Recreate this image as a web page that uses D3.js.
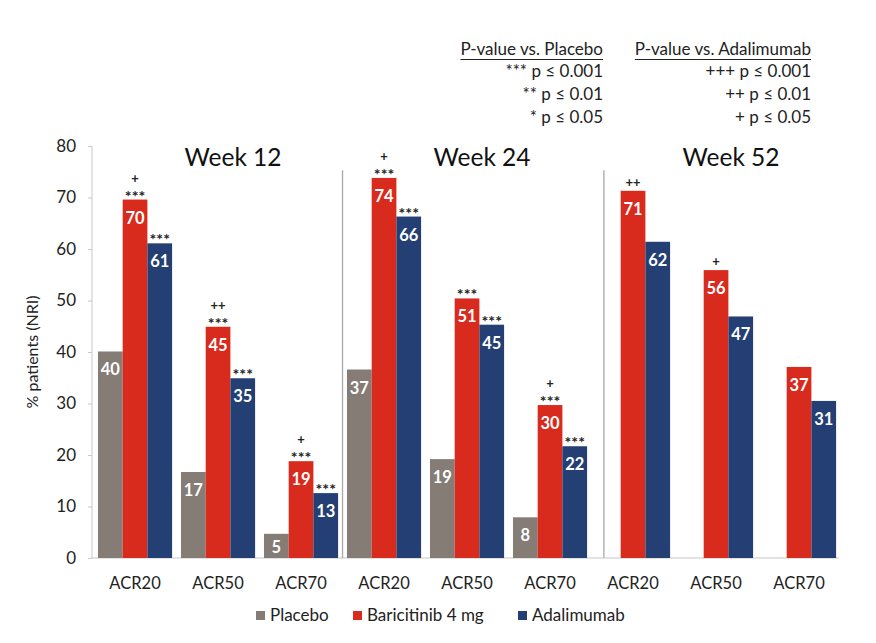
<!DOCTYPE html>
<html><head><meta charset="utf-8">
<script src="https://cdn.jsdelivr.net/npm/d3@7"></script>
<style>body{margin:0;background:#fff;} svg{display:block;} text{font-family:Lato,"Open Sans",sans-serif;}</style>
</head><body>
<svg id="chart" width="876" height="643"></svg>
<script>
const weeks = ["Week 12", "Week 24", "Week 52"];
const measures = ["ACR20", "ACR50", "ACR70"];
const seriesNames = ["Placebo", "Baricitinib 4 mg", "Adalimumab"];
const seriesColors = ["#847c75", "#d92a1e", "#233f74"];
// values per category (week × measure order)
const placebo = [40.1, 16.7, 4.7, 36.6, 19.2, 7.9, null, null, null];
const baricitinib = [69.6, 44.9, 18.8, 73.8, 50.4, 29.7, 71.3, 55.9, 37.1];
const adalimumab = [61.1, 34.9, 12.6, 66.3, 45.3, 21.7, 61.4, 46.9, 30.5];
const placeboLabels = ["40", "17", "5", "37", "19", "8", "", "", ""];
const baricitinibLabels = ["70", "45", "19", "74", "51", "30", "71", "56", "37"];
const adalimumabLabels = ["61", "35", "13", "66", "45", "22", "62", "47", "31"];
// significance marks: vs placebo (stars), vs adalimumab (plus)
const bariStars = ["***", "***", "***", "***", "***", "***", "", "", ""];
const bariPlus = ["+", "++", "+", "+", "", "+", "++", "+", ""];
const adaStars = ["***", "***", "***", "***", "***", "***", "", "", ""];
const yTicks = [0, 10, 20, 30, 40, 50, 60, 70, 80];
const legendPlacebo = ["P-value vs. Placebo", "*** p ≤ 0.001", "** p ≤ 0.01", "* p ≤ 0.05"];
const legendAda = ["P-value vs. Adalimumab", "+++ p ≤ 0.001", "++ p ≤ 0.01", "+ p ≤ 0.05"];

const svg = d3.select("#chart");
const cats = d3.range(9);
const x = d3.scaleBand().domain(cats).range([92, 839]);
const bw = x.bandwidth();
const xi = d3.scaleBand().domain(d3.range(3)).range([bw * 0.072, bw * 0.965]);
const y = d3.scaleLinear().domain([0, 80]).range([558, 146]);

const series = [
  {vals: placebo, labels: placeboLabels},
  {vals: baricitinib, labels: baricitinibLabels},
  {vals: adalimumab, labels: adalimumabLabels}
];

// y axis
const yAxis = d3.axisLeft(y).tickValues(yTicks).tickSize(4).tickPadding(12);
const ga = svg.append("g").attr("transform", "translate(92,0)").call(yAxis);
ga.select(".domain").attr("stroke", "#c8c8c8").attr("d", `M0,${y(80)}V${y(0)}`);
ga.selectAll(".tick line").attr("stroke", "#c8c8c8");
ga.selectAll(".tick text").attr("font-size", 17).attr("fill", "#222").style("font-family", "Lato, sans-serif");

// baseline
svg.append("line").attr("x1", 92).attr("x2", 839).attr("y1", y(0)).attr("y2", y(0))
  .attr("stroke", "#c8c8c8").attr("stroke-width", 1.2);

// axis title
svg.append("text").attr("transform", `translate(38,${(y(0) + y(80)) / 2}) rotate(-90)`)
  .attr("text-anchor", "middle").attr("font-size", 16).attr("fill", "#222").text("% patients (NRI)");

// bars
series.forEach((s, si) => {
  const g = svg.append("g");
  cats.forEach(c => {
    const v = s.vals[c];
    if (v == null) return;
    const bx = x(c) + xi(si);
    g.append("rect").attr("x", bx).attr("y", y(v)).attr("width", xi.bandwidth())
      .attr("height", y(0) - y(v)).attr("fill", seriesColors[si]);
    g.append("text").attr("x", bx + xi.bandwidth() / 2).attr("y", Math.min(y(v) + 24, y(0) - 5.5))
      .attr("text-anchor", "middle").attr("font-size", 16.5).attr("font-weight", 700)
      .attr("fill", "#fff").text(s.labels[c]);
  });
});

// significance marks
cats.forEach(c => {
  const bx = x(c) + xi(1) + xi.bandwidth() / 2;
  const top = y(baricitinib[c]);
  let off = 0;
  if (bariStars[c]) {
    svg.append("text").attr("x", bx).attr("y", top + 2).attr("text-anchor", "middle")
      .attr("font-size", 16).attr("font-weight", 700).attr("fill", "#222").text(bariStars[c]);
    off = 13;
  }
  if (bariPlus[c]) {
    svg.append("text").attr("x", bx).attr("y", top - 4 - off).attr("text-anchor", "middle")
      .attr("font-size", 13).attr("font-weight", 700).attr("fill", "#222").text(bariPlus[c]);
  }
  const ax = x(c) + xi(2) + xi.bandwidth() / 2;
  if (adaStars[c]) {
    svg.append("text").attr("x", ax).attr("y", y(adalimumab[c]) + 2).attr("text-anchor", "middle")
      .attr("font-size", 16).attr("font-weight", 700).attr("fill", "#222").text(adaStars[c]);
  }
});

// category labels
cats.forEach(c => {
  svg.append("text").attr("x", x(c) + (xi(0) + xi(2) + xi.bandwidth()) / 2).attr("y", 589)
    .attr("text-anchor", "middle").attr("font-size", 16.5).attr("fill", "#222").text(measures[c % 3]);
});

// week titles and separators
weeks.forEach((w, wi) => {
  const c0 = wi * 3, c2 = wi * 3 + 2;
  const cx = (x(c0) + xi(0) + x(c2) + xi(2) + xi.bandwidth()) / 2;
  svg.append("text").attr("x", cx + 15).attr("y", 166).attr("text-anchor", "middle")
    .attr("font-size", 24.5).attr("fill", "#111").text(w);
  if (wi > 0) {
    const prevEnd = x(c0 - 1) + xi(2) + xi.bandwidth();
    const firstSeries = placebo[c0] == null ? 1 : 0;
    const nextStart = x(c0) + xi(firstSeries);
    const sx = (prevEnd + nextStart) / 2;
    svg.append("line").attr("x1", sx).attr("x2", sx).attr("y1", y(75.3)).attr("y2", y(0))
      .attr("stroke", "#a8a8a8").attr("stroke-width", 1.3);
  }
});

// bottom legend
const legX = [256, 353, 518];
seriesNames.forEach((n, i) => {
  svg.append("rect").attr("x", legX[i]).attr("y", 611).attr("width", 9).attr("height", 9).attr("fill", seriesColors[i]);
  svg.append("text").attr("x", legX[i] + 14).attr("y", 621).attr("font-size", 17).attr("fill", "#222").text(n);
});

// top-right significance legend
const legRows = [55, 77, 100, 123];
[[legendPlacebo, 603], [legendAda, 811]].forEach(([lines, rx]) => {
  lines.forEach((t, i) => {
    const tx = svg.append("text").attr("x", rx).attr("y", legRows[i]).attr("text-anchor", "end")
      .attr("font-size", 17).attr("fill", "#222").text(t);
    if (i === 0) {
      const bb = tx.node().getBBox();
      svg.append("line").attr("x1", bb.x).attr("x2", bb.x + bb.width).attr("y1", legRows[i] + 4.5).attr("y2", legRows[i] + 4.5)
        .attr("stroke", "#222").attr("stroke-width", 1.1);
    }
  });
});
</script>
</body></html>
